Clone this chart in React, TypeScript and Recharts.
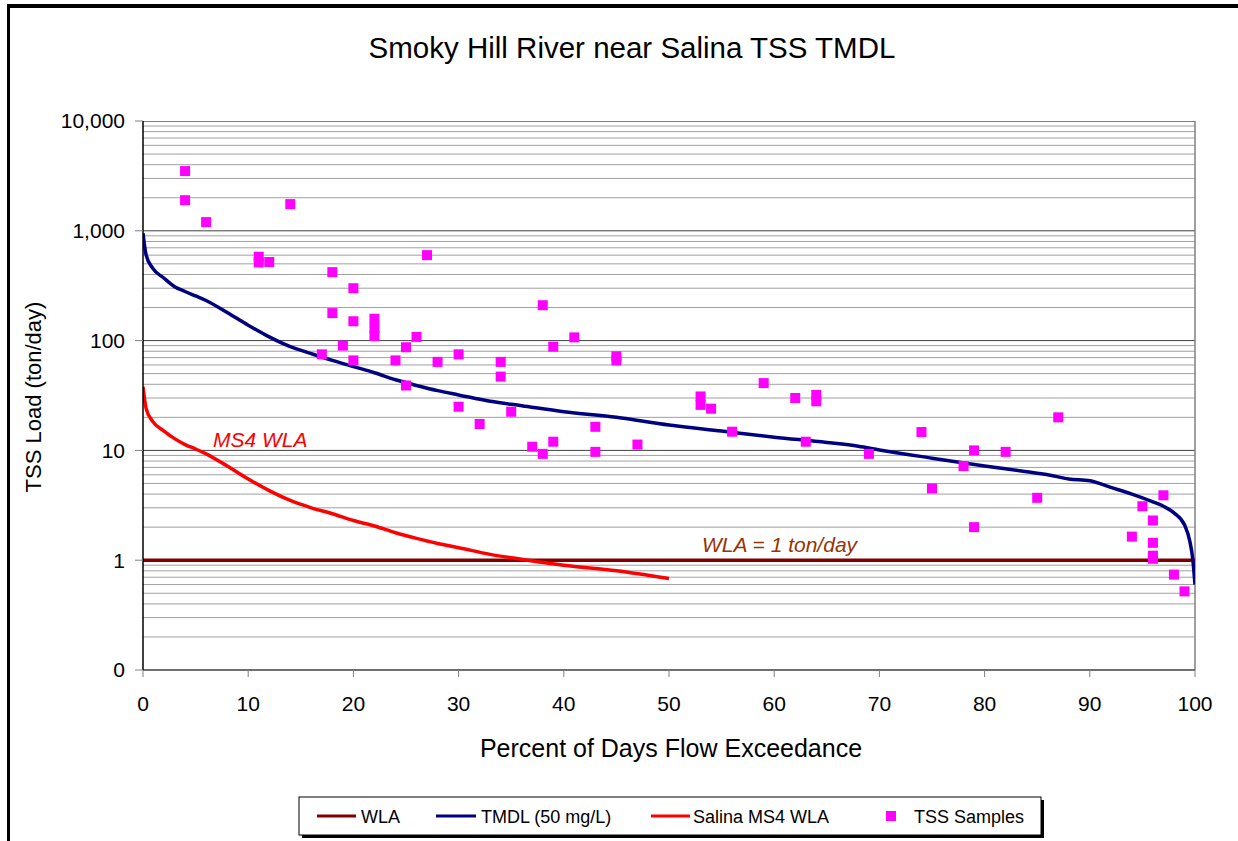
import React from "react";
import {
  ComposedChart,
  Line,
  Scatter,
  XAxis,
  YAxis,
  ReferenceLine,
} from "recharts";

// ---- Data ----
// Flow duration curve x positions (percent of days flow exceedance)
const curveX = [0, 0.3, 0.9, 2, 3, 4, 5, 6, 8, 10, 12, 14, 16, 18, 20, 22, 24, 26, 28, 30, 33, 36, 40, 45, 50, 55, 60, 65, 68, 70, 75, 80, 84, 86, 88, 90, 92, 94, 96, 97, 98, 99, 99.5, 99.8, 100];
// TMDL (50 mg/L) load, ton/day
const tmdlLoad = [950, 600, 460, 370, 310, 280, 255, 232, 180, 138, 108, 88, 76, 66, 58, 51, 44, 39, 35, 32, 28, 25.5, 22.5, 20, 17, 15, 13.2, 11.8, 10.9, 10.1, 8.5, 7.2, 6.4, 6.0, 5.5, 5.3, 4.6, 4.0, 3.4, 3.1, 2.7, 2.1, 1.5, 1.0, 0.6];
// Salina MS4 WLA, ton/day (drawn only from 0 to 50 %)
const ms4Load = [38, 24, 18.5, 15, 12.8, 11.3, 10.3, 9.3, 7.2, 5.5, 4.3, 3.5, 3.0, 2.65, 2.3, 2.05, 1.78, 1.58, 1.42, 1.3, 1.13, 1.02, 0.9, 0.8, 0.68];
// WLA line
const wlaX = [0, 100];
const wlaLoad = [1, 1];
// TSS samples
const sampleX = [4, 4, 6, 14, 11, 11, 12, 27, 18, 20, 18, 20, 22, 22, 22, 26, 19, 17, 20, 24, 25, 28, 30, 34, 34, 25, 30, 35, 32, 37, 38, 39, 38, 39, 41, 43, 43, 45, 45, 47, 53, 53, 54, 56, 59, 62, 63, 64, 64, 69, 74, 75, 78, 79, 79, 82, 85, 87, 94, 95, 96, 96, 96, 96, 97, 98, 99];
const sampleLoad = [3500, 1900, 1200, 1750, 580, 515, 520, 600, 420, 300, 178, 150, 158, 130, 110, 108, 90, 75, 66, 66, 87, 64, 75, 64, 47, 39, 25, 22.5, 17.4, 10.8, 9.3, 12, 210, 88, 107, 16.4, 9.7, 72, 66, 11.3, 31, 26, 24, 14.8, 41, 30, 12, 32, 28, 9.3, 14.7, 4.5, 7.2, 10, 2.0, 9.7, 3.7, 20, 1.64, 3.1, 2.3, 1.44, 1.1, 1.03, 3.9, 0.74, 0.52];

// Axis ticks / gridlines
const yTicks = [0.1, 1, 10, 100, 1000, 10000];
const xTicks = [0, 10, 20, 30, 40, 50, 60, 70, 80, 90, 100];
const majorGrid = [1, 10, 100, 1000, 10000];
const minorGrid = [
  0.2, 0.3, 0.4, 0.5, 0.6, 0.7, 0.8, 0.9,
  2, 3, 4, 5, 6, 7, 8, 9,
  20, 30, 40, 50, 60, 70, 80, 90,
  200, 300, 400, 500, 600, 700, 800, 900,
  2000, 3000, 4000, 5000, 6000, 7000, 8000, 9000,
];

const curveRows = curveX.map((x, i) => ({ x, tmdl: tmdlLoad[i] }));
const ms4Rows = ms4Load.map((v, i) => ({ x: curveX[i], ms4: v }));
const wlaRows = wlaX.map((x, i) => ({ x, wla: wlaLoad[i] }));
const sampleRows = sampleX.map((x, i) => ({ x, tss: sampleLoad[i] }));

const FONT = "'Liberation Sans', Arial, Helvetica, sans-serif";

const Square = (props: any) => {
  const { cx, cy } = props;
  if (cx == null || cy == null) return null;
  const s = 10;
  return <rect x={cx - s / 2} y={cy - s / 2} width={s} height={s} fill="#FF00FF" />;
};

const fmtY = (v: number) => (v < 1 ? "0" : v.toLocaleString("en-US"));

export default function App() {
  const W = 1238;
  const H = 841;
  return (
    <div style={{ position: "absolute", left: 0, top: 0, width: W, height: H, overflow: "hidden", background: "#fff", fontFamily: FONT }}>
      {/* outer chart border */}
      <div style={{ position: "absolute", left: 7, top: 4, width: 1400, height: 1000, borderLeft: "3px solid #000", borderTop: "4px solid #000" }} />
      <div style={{ position: "absolute", left: 0, top: 0 }}>
        <ComposedChart
          width={W}
          height={H}
          margin={{ top: 121, right: 43, bottom: 141, left: 63 }}
        >
          <XAxis
            type="number"
            dataKey="x"
            domain={[0, 100]}
            ticks={xTicks}
            allowDataOverflow
            height={30}
            tickSize={7}
            tickMargin={19}
            axisLine={{ stroke: "#404040", strokeWidth: 1.5 }}
            tickLine={{ stroke: "#808080" }}
            tick={{ fill: "#000", fontSize: 21, fontFamily: FONT }}
            interval={0}
          />
          <YAxis
            type="number"
            scale="log"
            domain={[0.1, 10000]}
            ticks={yTicks}
            allowDataOverflow
            width={80}
            tickSize={8}
            tickMargin={10}
            tickFormatter={fmtY}
            axisLine={{ stroke: "#000", strokeWidth: 1.5 }}
            tickLine={{ stroke: "#808080" }}
            tick={{ fill: "#000", fontSize: 21, fontFamily: FONT }}
            interval={0}
          />
          {minorGrid.map((v) => (
            <ReferenceLine key={"mn" + v} y={v} stroke="#a0a0a0" strokeWidth={1} ifOverflow="hidden" />
          ))}
          {majorGrid.map((v) => (
            <ReferenceLine key={"mj" + v} y={v} stroke={v === 10000 ? "#000" : "#404040"} strokeWidth={1} ifOverflow="hidden" />
          ))}
          <ReferenceLine x={100} stroke="#808080" strokeWidth={1.5} />
          <Line
            data={wlaRows}
            dataKey="wla"
            type="linear"
            stroke="#800000"
            strokeWidth={3.5}
            dot={false}
            isAnimationActive={false}
          />
          <Line
            data={curveRows}
            dataKey="tmdl"
            type="monotone"
            stroke="#000080"
            strokeWidth={3.5}
            dot={false}
            isAnimationActive={false}
          />
          <Line
            data={ms4Rows}
            dataKey="ms4"
            type="monotone"
            stroke="#FF0000"
            strokeWidth={3.5}
            dot={false}
            isAnimationActive={false}
          />
          <Scatter
            data={sampleRows}
            dataKey="tss"
            fill="#FF00FF"
            shape={Square}
            isAnimationActive={false}
          />
        </ComposedChart>
      </div>
      {/* text overlay */}
      <svg width={W} height={H} style={{ position: "absolute", left: 0, top: 0, pointerEvents: "none" }}>
        <text x={632} y={58} textAnchor="middle" fontSize={29.5} fontFamily={FONT} fill="#000">
          Smoky Hill River near Salina TSS TMDL
        </text>
        <text x={671} y={757} textAnchor="middle" fontSize={25} fontFamily={FONT} fill="#000">
          Percent of Days Flow Exceedance
        </text>
        <text
          x={0}
          y={0}
          transform="translate(41,397) rotate(-90)"
          textAnchor="middle"
          fontSize={22}
          fontFamily={FONT}
          fill="#000"
        >
          TSS Load (ton/day)
        </text>
        <text x={213} y={447} fontSize={21} fontStyle="italic" fontFamily={FONT} fill="#FF0000">
          MS4 WLA
        </text>
        <text x={702} y={552} fontSize={21} fontStyle="italic" fontFamily={FONT} fill="#993300">
          WLA = 1 ton/day
        </text>
        {/* legend */}
        <rect x={302} y={800} width={742} height={38} fill="#000" />
        <rect x={299} y={797} width={742} height={38} fill="#fff" stroke="#000" strokeWidth={1} />
        <line x1={317} y1={816} x2={356} y2={816} stroke="#800000" strokeWidth={3} />
        <text x={361} y={823} fontSize={18} fontFamily={FONT} fill="#000">WLA</text>
        <line x1={436} y1={816} x2={476} y2={816} stroke="#000080" strokeWidth={3} />
        <text x={481} y={823} fontSize={18} fontFamily={FONT} fill="#000">TMDL (50 mg/L)</text>
        <line x1={651} y1={816} x2={690} y2={816} stroke="#FF0000" strokeWidth={3} />
        <text x={693} y={823} fontSize={18} fontFamily={FONT} fill="#000">Salina MS4 WLA</text>
        <rect x={886} y={811} width={10} height={10} fill="#FF00FF" />
        <text x={914} y={823} fontSize={18} fontFamily={FONT} fill="#000">TSS Samples</text>
      </svg>
    </div>
  );
}
